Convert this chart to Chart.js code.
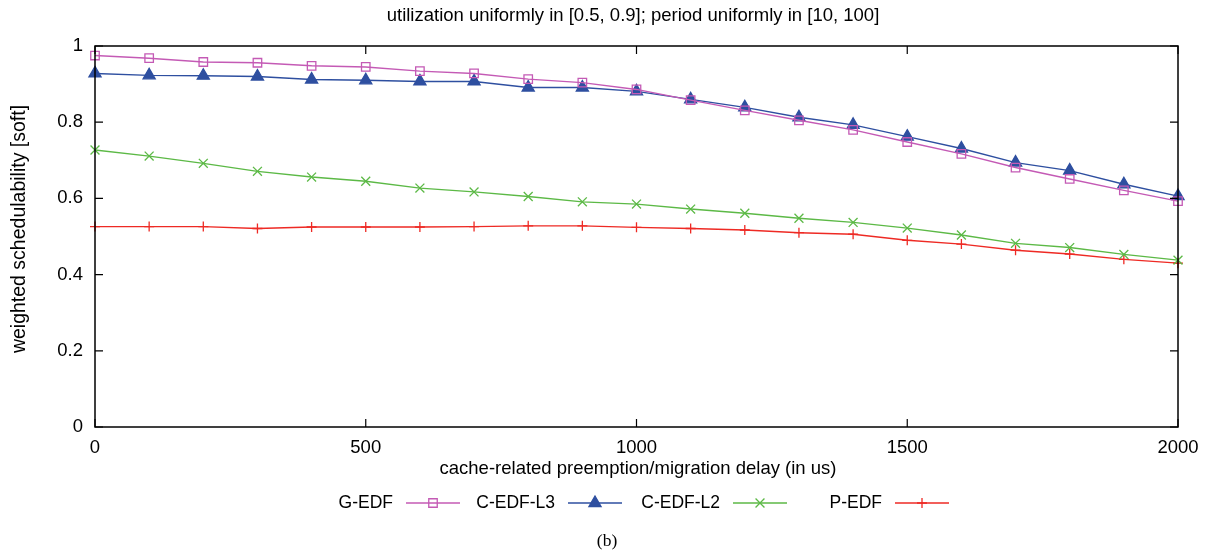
<!DOCTYPE html>
<html>
<head>
<meta charset="utf-8">
<script src="https://cdn.jsdelivr.net/npm/chart.js@4.4.1/dist/chart.umd.min.js"></script>
<style>
html,body{margin:0;padding:0;background:#fff;}
canvas{display:block;}
</style>
</head>
<body>
<canvas id="c" width="1209" height="552"></canvas>
<script>
const delays = [0,100,200,300,400,500,600,700,800,900,1000,1100,1200,1300,1400,1500,1600,1700,1800,1900,2000];
const gEdf   = [0.975,0.968,0.958,0.956,0.948,0.945,0.934,0.928,0.913,0.904,0.886,0.858,0.831,0.805,0.780,0.748,0.717,0.681,0.651,0.621,0.593];
const cEdfL3 = [0.928,0.923,0.922,0.920,0.912,0.910,0.907,0.907,0.891,0.891,0.881,0.860,0.839,0.813,0.793,0.762,0.731,0.694,0.673,0.637,0.606];
const cEdfL2 = [0.727,0.711,0.692,0.671,0.656,0.645,0.627,0.617,0.605,0.591,0.585,0.572,0.561,0.548,0.537,0.522,0.504,0.482,0.471,0.453,0.438];
const pEdf   = [0.526,0.526,0.526,0.521,0.525,0.525,0.525,0.526,0.528,0.528,0.524,0.521,0.517,0.510,0.506,0.490,0.480,0.464,0.454,0.440,0.430];
const seriesNames = ['G-EDF','C-EDF-L3','C-EDF-L2','P-EDF'];
const xTicks = [0,500,1000,1500,2000];
const xTickLabels = ['0','500','1000','1500','2000'];
const yTicks = [0,0.2,0.4,0.6,0.8,1];
const yTickLabels = ['0','0.2','0.4','0.6','0.8','1'];
const titleText = 'utilization uniformly in [0.5, 0.9]; period uniformly in [10, 100]';
const xTitle = 'cache-related preemption/migration delay (in us)';
const yTitle = 'weighted schedulability [soft]';
const caption = '(b)';

const colors = ['#c45ab5','#2e4fa0','#5cb946','#ee2a24'];
const styles = ['rect','triangle','crossRot','cross'];
const radii = [6,7,6.3,5];
const seriesVals = [gEdf,cEdfL3,cEdfL2,pEdf];

const FONT = "'Liberation Sans', Arial, sans-serif";

function mkData(vals){ return delays.map((d,i)=>({x:d,y:vals[i]})); }

const datasets = seriesNames.map((n,i)=>({
  label:n,
  data:mkData(seriesVals[i]),
  borderColor:colors[i],
  backgroundColor: i===1 ? colors[i] : 'rgba(0,0,0,0)',
  pointBackgroundColor: i===1 ? colors[i] : 'rgba(0,0,0,0)',
  pointBorderColor:colors[i],
  pointStyle:styles[i],
  pointRadius:radii[i],
  pointBorderWidth:1.3,
  borderWidth:1.4,
  tension:0,
  clip:false
}));

function drawMarker(ctx, style, x, y, r, color){
  ctx.save();
  ctx.strokeStyle=color; ctx.fillStyle=color; ctx.lineWidth=1.3;
  ctx.beginPath();
  if(style==='rect'){
    const s=r*Math.SQRT1_2;
    ctx.rect(x-s,y-s,2*s,2*s); ctx.stroke();
  } else if(style==='triangle'){
    ctx.moveTo(x, y - r);
    ctx.lineTo(x + r*Math.sin(Math.PI*2/3), y - r*Math.cos(Math.PI*2/3));
    ctx.lineTo(x + r*Math.sin(Math.PI*4/3), y - r*Math.cos(Math.PI*4/3));
    ctx.closePath(); ctx.fill(); ctx.stroke();
  } else if(style==='crossRot'){
    const o=r*Math.SQRT1_2;
    ctx.moveTo(x-o,y-o); ctx.lineTo(x+o,y+o);
    ctx.moveTo(x-o,y+o); ctx.lineTo(x+o,y-o); ctx.stroke();
  } else {
    ctx.moveTo(x-r,y); ctx.lineTo(x+r,y);
    ctx.moveTo(x,y-r); ctx.lineTo(x,y+r); ctx.stroke();
  }
  ctx.restore();
}

const decor = {
  id:'decor',
  afterDraw(chart){
    const ctx=chart.ctx, a=chart.chartArea;
    const xs=chart.scales.x, ys=chart.scales.y;
    ctx.save();
    ctx.strokeStyle='#000'; ctx.lineWidth=1.5;
    ctx.strokeRect(a.left,a.top,a.right-a.left,a.bottom-a.top);
    ctx.lineWidth=1.2;
    ctx.beginPath();
    xTicks.forEach(v=>{
      const px=xs.getPixelForValue(v);
      ctx.moveTo(px,a.bottom); ctx.lineTo(px,a.bottom-8);
      ctx.moveTo(px,a.top); ctx.lineTo(px,a.top+8);
    });
    yTicks.forEach(v=>{
      const py=ys.getPixelForValue(v);
      ctx.moveTo(a.left,py); ctx.lineTo(a.left+8,py);
      ctx.moveTo(a.right,py); ctx.lineTo(a.right-8,py);
    });
    ctx.stroke();
    ctx.fillStyle='#000';
    ctx.textBaseline='middle';
    ctx.textAlign='center';
    ctx.font='18.5px '+FONT;
    ctx.fillText(titleText, 633, 16);
    ctx.font='18.5px '+FONT;
    ctx.fillText(xTitle, 638, 469);
    ctx.save();
    ctx.translate(20, 229);
    ctx.rotate(-Math.PI/2);
    ctx.font='19.5px '+FONT;
    ctx.fillText(yTitle, 0, 0);
    ctx.restore();
    ctx.font='17.5px "Liberation Serif", "Times New Roman", serif';
    ctx.fillText(caption, 607, 541);
    const lineStarts=[406,568,733,895];
    const ly=503;
    ctx.font='17.5px '+FONT;
    ctx.textAlign='right';
    seriesNames.forEach((n,i)=>{
      ctx.fillStyle='#000';
      ctx.fillText(n, lineStarts[i]-13, ly);
      ctx.strokeStyle=colors[i]; ctx.lineWidth=1.4;
      ctx.beginPath(); ctx.moveTo(lineStarts[i],ly); ctx.lineTo(lineStarts[i]+54,ly); ctx.stroke();
      drawMarker(ctx, styles[i], lineStarts[i]+27, ly, radii[i], colors[i]);
    });
    ctx.restore();
  }
};

new Chart(document.getElementById('c'),{
  type:'line',
  data:{datasets},
  options:{
    responsive:false,
    animation:false,
    layout:{padding:{left:0,top:46,right:31,bottom:0}},
    plugins:{legend:{display:false},title:{display:false},tooltip:{enabled:false}},
    scales:{
      x:{
        type:'linear',min:0,max:2000,
        afterBuildTicks(s){ s.ticks = xTicks.map(v=>({value:v})); },
        afterFit(s){ s.height=125; },
        grid:{display:false},
        border:{display:false},
        ticks:{color:'#000',font:{family:FONT,size:18.5},padding:2,maxRotation:0,
          callback:(v)=>xTickLabels[xTicks.indexOf(v)]}
      },
      y:{
        type:'linear',min:0,max:1,
        afterBuildTicks(s){ s.ticks = yTicks.map(v=>({value:v})); },
        afterFit(s){ s.width=95; },
        grid:{display:false},
        border:{display:false},
        ticks:{color:'#000',font:{family:FONT,size:18.5},padding:4,
          callback:(v)=>{ const k=yTicks.findIndex(t=>Math.abs(t-v)<1e-9); return k>=0?yTickLabels[k]:''; }}
      }
    }
  },
  plugins:[decor]
});
</script>
</body>
</html>
